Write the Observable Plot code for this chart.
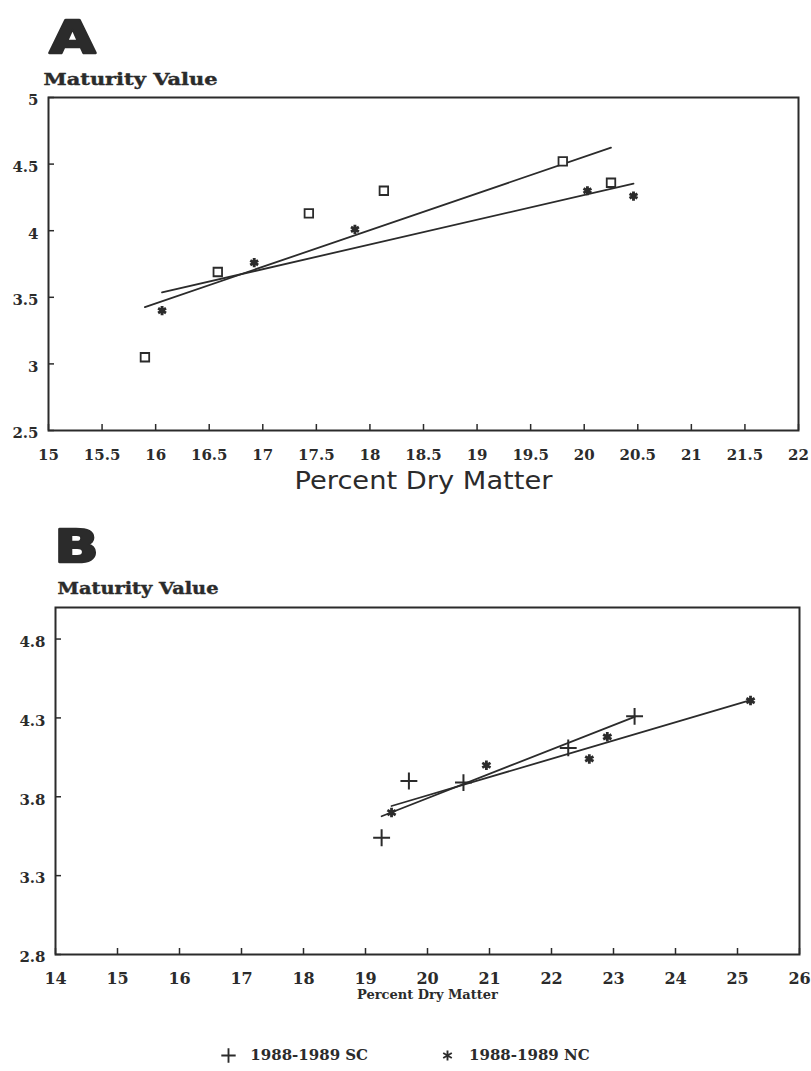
<!DOCTYPE html>
<html><head><meta charset="utf-8">
<script src="https://cdn.jsdelivr.net/npm/d3@7"></script>
<script src="https://cdn.jsdelivr.net/npm/@observablehq/plot@0.6"></script>
<style>
body{margin:0;background:#fff;}
#wrap{position:relative;width:811px;height:1071px;overflow:hidden;background:#fff;}
#a{position:absolute;left:0;top:0;}
#b{position:absolute;left:0;top:500px;}
#leg{position:absolute;left:0;top:1046px;width:811px;}
#leg > div{display:flex;justify-content:center;align-items:center;font:bold 15px "DejaVu Serif";color:#2b2b2b;margin:0;min-height:0;}
#leg > div > span{margin:0 36px;}
#leg > div > span > svg{margin-right:14px;}
</style></head><body><div id="wrap"><div id="a"></div><div id="b"></div><div id="leg"></div></div>
<script>
const ink = "#2b2b2b";
const serif = "DejaVu Serif";

// ---- Panel A data ----
const aSquareX = [15.90, 16.58, 17.43, 18.13, 19.80, 20.25];
const aSquareY = [3.05, 3.69, 4.13, 4.30, 4.52, 4.36];
const aStarX = [16.06, 16.92, 17.86, 20.03, 20.46];
const aStarY = [3.40, 3.76, 4.01, 4.30, 4.26];
const aXTicks = [15, 15.5, 16, 16.5, 17, 17.5, 18, 18.5, 19, 19.5, 20, 20.5, 21, 21.5, 22];
const aYTicks = [2.5, 3, 3.5, 4, 4.5, 5];

// ---- Panel B data ----
const series = ["1988-1989 SC", "1988-1989 NC"];
const bScX = [19.26, 19.70, 20.58, 22.27, 23.34];
const bScY = [3.54, 3.90, 3.89, 4.11, 4.31];
const bNcX = [19.42, 20.95, 22.61, 22.90, 25.21];
const bNcY = [3.70, 4.00, 4.04, 4.18, 4.41];
const bXTicks = [14, 15, 16, 17, 18, 19, 20, 21, 22, 23, 24, 25, 26];
const bYTicks = [2.8, 3.3, 3.8, 4.3, 4.8];

const yTitle = "Maturity Value";
const xTitle = "Percent Dry Matter";

const aSquares = aSquareX.map((x, i) => ({x, y: aSquareY[i]}));
const aStars = aStarX.map((x, i) => ({x, y: aStarY[i]}));
const bSc = bScX.map((x, i) => ({x, y: bScY[i], series: series[0]}));
const bNc = bNcX.map((x, i) => ({x, y: bNcY[i], series: series[1]}));
const bAll = [...bSc, ...bNc];

const fmt = d => String(d);

// inward ticks: full-frame ticks cut down to 6px by insets
function axes(xt, yt, frameW, frameH, xPad, xSize) {
  return [
    Plot.tickX(xt, {x: d => d, insetTop: frameH - 6, stroke: ink, strokeWidth: 1.5}),
    Plot.tickY(yt, {y: d => d, insetRight: frameW - 6, stroke: ink, strokeWidth: 1.5}),
    Plot.axisX({ticks: xt, tickSize: 0, tickPadding: xPad, tickFormat: fmt, fontSize: xSize, fontWeight: "bold", fill: ink, label: null}),
    Plot.axisY({ticks: yt, tickSize: 0, tickPadding: 10, tickFormat: fmt, fontSize: 15, fontWeight: "bold", dy: 3, fill: ink, label: null})
  ];
}

// stretch a text to a given length (the scanned lettering is wider than the installed fonts)
function fit(svg, content, len, adjust) {
  for (const t of svg.querySelectorAll("text")) {
    if (t.textContent === content) {
      t.setAttribute("textLength", len);
      t.setAttribute("lengthAdjust", adjust);
    }
  }
}

const plotA = Plot.plot({
  width: 811, height: 500,
  marginLeft: 48, marginRight: 13, marginTop: 97, marginBottom: 70,
  style: {fontFamily: serif, color: ink, background: "white", overflow: "visible"},
  x: {domain: [15, 22]},
  y: {domain: [2.5, 5]},
  marks: [
    Plot.frame({stroke: ink, strokeWidth: 2}),
    ...axes(aXTicks, aYTicks, 750, 333, 19, 15),
    Plot.linearRegressionY(aSquares, {x: "x", y: "y", ci: 0, stroke: ink, strokeWidth: 1.8}),
    Plot.linearRegressionY(aStars, {x: "x", y: "y", ci: 0, stroke: ink, strokeWidth: 1.8}),
    Plot.dot(aSquares, {x: "x", y: "y", symbol: "square", r: 4.8, fill: "white", stroke: ink, strokeWidth: 1.8}),
    Plot.dot(aStars, {x: "x", y: "y", symbol: "asterisk", r: 4.3, stroke: ink, strokeWidth: 2.9}),
    Plot.text(["A"], {text: d => d, frameAnchor: "top-left", textAnchor: "start", lineAnchor: "bottom", dy: -45, dx: 1, fontSize: 45, fontWeight: "bold", fontFamily: "DejaVu Sans", fill: ink, stroke: ink, strokeWidth: 2.5}),
    Plot.text([yTitle], {text: d => d, frameAnchor: "top-left", textAnchor: "start", lineAnchor: "bottom", dy: -13, dx: -5, fontSize: 16, fontWeight: "bold", fill: ink, stroke: ink, strokeWidth: 0.4}),
    Plot.text([xTitle], {text: d => d, frameAnchor: "bottom", lineAnchor: "middle", dy: 50, fontSize: 25, fontFamily: "DejaVu Sans", fill: ink})
  ]
});
fit(plotA, "A", 46, "spacingAndGlyphs");
fit(plotA, yTitle, 174, "spacingAndGlyphs");
fit(plotA, xTitle, 258, "spacingAndGlyphs");
document.getElementById("a").append(plotA);

const plotB = Plot.plot({
  width: 811, height: 520,
  marginLeft: 55, marginRight: 12, marginTop: 107, marginBottom: 66,
  style: {fontFamily: serif, color: ink, background: "white", overflow: "visible"},
  x: {domain: [14, 26]},
  y: {domain: [2.8, 5.0]},
  symbol: {domain: series, range: ["plus", "asterisk"]},
  marks: [
    Plot.frame({stroke: ink, strokeWidth: 2}),
    ...axes(bXTicks, bYTicks, 744, 347, 18, 16),
    Plot.linearRegressionY(bAll, {x: "x", y: "y", z: "series", ci: 0, stroke: ink, strokeWidth: 1.8}),
    Plot.dot(bSc, {x: "x", y: "y", symbol: "series", r: 5.5, stroke: ink, strokeWidth: 2}),
    Plot.dot(bNc, {x: "x", y: "y", symbol: "series", r: 4.5, stroke: ink, strokeWidth: 2.8}),
    Plot.text(["B"], {text: d => d, frameAnchor: "top-left", textAnchor: "start", lineAnchor: "bottom", dy: -46, dx: -1, fontSize: 44, fontWeight: "bold", fontFamily: "DejaVu Sans", fill: ink, stroke: ink, strokeWidth: 2.5}),
    Plot.text([yTitle], {text: d => d, frameAnchor: "top-left", textAnchor: "start", lineAnchor: "bottom", dy: -14, dx: 2, fontSize: 16, fontWeight: "bold", fill: ink, stroke: ink, strokeWidth: 0.4}),
    Plot.text([xTitle], {text: d => d, frameAnchor: "bottom", lineAnchor: "middle", dy: 40, fontSize: 13, fontWeight: "bold", fill: ink})
  ]
});
fit(plotB, "B", 44, "spacingAndGlyphs");
fit(plotB, yTitle, 161, "spacingAndGlyphs");
document.getElementById("b").append(plotB);

const leg = plotB.legend("symbol", {stroke: ink, fill: "none", strokeWidth: 2, r: 5});
document.getElementById("leg").append(leg);
</script></body></html>
